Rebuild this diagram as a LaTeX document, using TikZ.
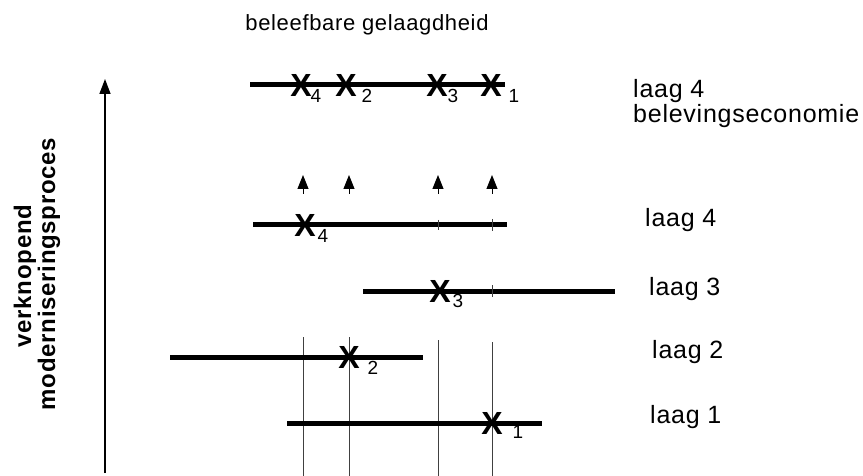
\documentclass[tikz,border=0pt]{standalone}
\usepackage{fontspec}
\setmainfont{Liberation Sans}
\newfontfamily\wide[LetterSpace=3]{Liberation Sans}
\usetikzlibrary{arrows.meta}

\begin{document}
\begin{tikzpicture}[x=1pt, y=-1pt,
    layer/.style={line width=5pt},
    guide/.style={line width=0.6pt, black!75},
    xmark/.style={font=\fontsize{32}{32}\selectfont\bfseries, inner sep=0pt},
    sub/.style={font=\fontsize{19}{19}\selectfont, inner sep=0pt},
    laag/.style={font=\wide\fontsize{25}{25}\selectfont, anchor=base west, inner sep=0pt},
    up/.style={-{Triangle[length=14pt,width=11pt]}, line width=1pt}]
        \useasboundingbox (0,0) rectangle (863,476);

        % title and axis
        \node[font=\wide\fontsize{22}{22}\selectfont, anchor=base, inner sep=0pt] (TITLE) at (367,31) {beleefbare gelaagdheid};
        \coordinate (AXb) at (105,473);
        \coordinate (AXt) at (105,79);
        \draw[-{Triangle[length=15pt,width=11pt]}, line width=1.5pt] (AXb) -- (AXt);
        \node[rotate=90, font=\wide\fontsize{24}{24}\selectfont\bfseries, inner sep=0pt] (VK) at (25,276) {verknopend};
        \node[rotate=90, font=\wide\fontsize{24}{24}\selectfont\bfseries, inner sep=0pt] (MP) at (49,274) {moderniseringsproces};

        % thin guides
        \coordinate (Ga) at (303,337); \coordinate (Gae) at (303,476);
        \coordinate (Gb) at (349,337); \coordinate (Gbe) at (349,476);
        \coordinate (Gc) at (438,340); \coordinate (Gce) at (438,476);
        \coordinate (Gd) at (492,342); \coordinate (Gde) at (492,476);
        \draw[guide] (Ga) -- (Gae);
        \draw[guide] (Gb) -- (Gbe);
        \draw[guide] (Gc) -- (Gce);
        \draw[guide] (Gd) -- (Gde);

        % layer lines
        \coordinate (T0) at (250,85);  \coordinate (T1) at (505,85);
        \coordinate (L4a) at (253,225); \coordinate (L4b) at (507,225);
        \coordinate (L3a) at (363,291); \coordinate (L3b) at (615,291);
        \coordinate (L2a) at (170,357); \coordinate (L2b) at (423,357);
        \coordinate (L1a) at (287,423); \coordinate (L1b) at (542,423);
        \draw[layer] (T0) -- (T1);
        \draw[layer] (L4a) -- (L4b);
        \draw[layer] (L3a) -- (L3b);
        \draw[layer] (L2a) -- (L2b);
        \draw[layer] (L1a) -- (L1b);

        % small ticks
        \coordinate (K1) at (438,220); \coordinate (K1e) at (438,230);
        \coordinate (K2) at (492,219); \coordinate (K2e) at (492,231);
        \coordinate (K3) at (492,285); \coordinate (K3e) at (492,297);
        \draw[guide] (K1) -- (K1e);
        \draw[guide] (K2) -- (K2e);
        \draw[guide] (K3) -- (K3e);

        % marks on the top line
        \node[xmark] (TX4) at (301,85) {X};
        \node[sub] (TS4) at (316,96) {4};
        \node[xmark] (TX2) at (346,85) {X};
        \node[sub] (TS2) at (367,96) {2};
        \node[xmark] (TX3) at (437,85) {X};
        \node[sub] (TS3) at (453,96) {3};
        \node[xmark] (TX1) at (491,85) {X};
        \node[sub] (TS1) at (514,96) {1};

        % marks on the layers
        \node[xmark] (X4) at (305,225) {X};
        \node[sub] (S4) at (323,236) {4};
        \node[xmark] (X3) at (440,291) {X};
        \node[sub] (S3) at (458,301) {3};
        \node[xmark] (X2) at (349,357) {X};
        \node[sub] (S2) at (373,368) {2};
        \node[xmark] (X1) at (492,423) {X};
        \node[sub] (S1) at (518,432) {1};

        % rising arrows
        \coordinate (A1) at (303,194); \coordinate (A1e) at (303,175);
        \coordinate (A2) at (349,194); \coordinate (A2e) at (349,175);
        \coordinate (A3) at (438,194); \coordinate (A3e) at (438,175);
        \coordinate (A4) at (492,194); \coordinate (A4e) at (492,175);
        \draw[up] (A1) -- (A1e);
        \draw[up] (A2) -- (A2e);
        \draw[up] (A3) -- (A3e);
        \draw[up] (A4) -- (A4e);

        % labels
        \node[laag] (TL) at (633,98) {laag 4};
        \node[laag] (TB) at (633,123) {belevingseconomie};
        \node[laag] (LL4) at (645,227) {laag 4};
        \node[laag] (LL3) at (649,295) {laag 3};
        \node[laag] (LL2) at (652,358) {laag 2};
        \node[laag] (LL1) at (650,423) {laag 1};

    \end{tikzpicture}
\end{document}
